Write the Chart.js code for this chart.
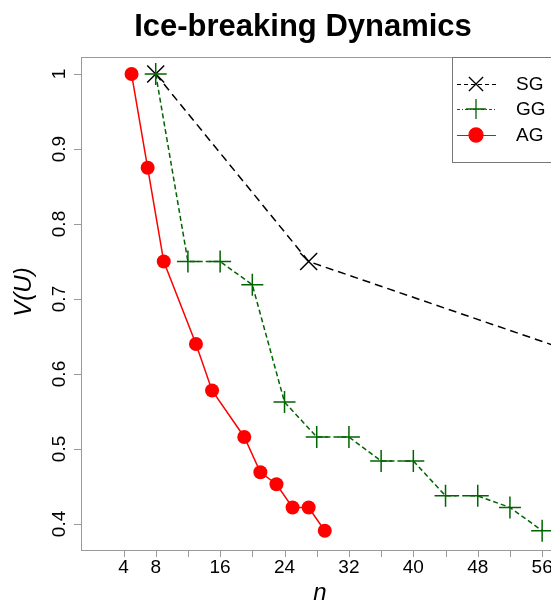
<!DOCTYPE html>
<html>
<head>
<meta charset="utf-8">
<script src="https://cdn.jsdelivr.net/npm/chart.js@4"></script>
<style>
  body { margin: 0; background: #fff; }
</style>
</head>
<body>
<canvas id="chart" width="551" height="604"></canvas>
<script>
// data
const sgN = [8, 27, 61];
const sgV = [1, 0.75, 0.625];

const ggN = [8, 12, 16, 20, 24, 28, 32, 36, 40, 44, 48, 52, 56];
const ggV = [1, 0.75, 0.75, 0.719, 0.5625, 0.516, 0.516, 0.484, 0.484, 0.4375, 0.4375, 0.422, 0.391];

const agN = [5, 7, 9, 13, 15, 19, 21, 23, 25, 27, 29];
const agV = [1, 0.875, 0.75, 0.64, 0.578, 0.516, 0.469, 0.453, 0.422, 0.422, 0.391];

const xTicks = [4, 8, 12, 16, 20, 24, 28, 32, 36, 40, 44, 48, 52, 56];
const xLabels = [4, 8, 16, 24, 32, 40, 48, 56];
const yTicks = [0.4, 0.5, 0.6, 0.7, 0.8, 0.9, 1];

const toXY = (xs, ys) => xs.map((x, i) => ({ x: x, y: ys[i] }));

const FONT = "'Liberation Sans', Arial, sans-serif";
const FRAME = "#9a9a9a";

// axes, labels, title and legend drawn by hand (R style)
const rDecor = {
  id: "rDecor",
  beforeDatasetsDraw(chart) {
    const { ctx, chartArea: a, scales } = chart;
    ctx.save();
    ctx.strokeStyle = FRAME;
    ctx.lineWidth = 1;
    ctx.strokeRect(a.left + 0.5, a.top + 0.5, 700, a.bottom - a.top);

    // x ticks
    ctx.beginPath();
    xTicks.forEach((t) => {
      const px = Math.round(scales.x.getPixelForValue(t)) + 0.5;
      ctx.moveTo(px, a.bottom);
      ctx.lineTo(px, a.bottom + 7);
    });
    // y ticks
    yTicks.forEach((t) => {
      const py = Math.round(scales.y.getPixelForValue(t)) + 0.5;
      ctx.moveTo(a.left, py);
      ctx.lineTo(a.left - 7, py);
    });
    ctx.stroke();

    ctx.fillStyle = "#000";
    ctx.font = "19px " + FONT;
    ctx.textAlign = "center";
    ctx.textBaseline = "alphabetic";
    xLabels.forEach((t) => {
      ctx.fillText(String(t), scales.x.getPixelForValue(t), 573);
    });
    yTicks.forEach((t) => {
      ctx.save();
      ctx.translate(65, scales.y.getPixelForValue(t));
      ctx.rotate(-Math.PI / 2);
      ctx.fillText(String(t), 0, 0);
      ctx.restore();
    });

    // axis titles
    ctx.font = "italic 24px " + FONT;
    ctx.fillText("n", 320, 600);
    ctx.save();
    ctx.translate(31, 292);
    ctx.rotate(-Math.PI / 2);
    ctx.fillText("V(U)", 0, 0);
    ctx.restore();

    // title
    ctx.font = "bold 31px " + FONT;
    ctx.fillText("Ice-breaking Dynamics", 303, 36);
    ctx.restore();
  },
  afterDraw(chart) {
    const { ctx } = chart;
    ctx.save();
    ctx.fillStyle = "#fff";
    ctx.fillRect(452, 57, 120, 105);
    ctx.strokeStyle = "#777";
    ctx.lineWidth = 1;
    ctx.strokeRect(452.5, 57.5, 120, 105);

    const rows = [
      { label: "SG", color: "#000", dash: [4, 3], y: 84, style: "crossRot", r: 10 },
      { label: "GG", color: "#006400", dash: [3, 2, 1, 2], y: 109, style: "cross", r: 10 },
      { label: "AG", color: "#ff0000", dash: [], y: 135, style: "circle", r: 7 }
    ];
    rows.forEach((row) => {
      ctx.strokeStyle = row.color;
      ctx.lineWidth = 1;
      ctx.setLineDash(row.dash);
      ctx.beginPath();
      ctx.moveTo(457, row.y + 0.5);
      ctx.lineTo(496, row.y + 0.5);
      ctx.stroke();
      ctx.setLineDash([]);
      ctx.fillStyle = row.color;
      ctx.lineWidth = 1.3;
      Chart.helpers.drawPoint(ctx, { pointStyle: row.style, radius: row.r, borderWidth: 1.3 }, 476, row.y);
      ctx.fillStyle = "#000";
      ctx.font = "19px " + FONT;
      ctx.textAlign = "left";
      ctx.textBaseline = "middle";
      ctx.fillText(row.label, 516, row.y + 1);
    });
    ctx.restore();
  }
};

const ctx = document.getElementById("chart").getContext("2d");
const chart = new Chart(ctx, {
  type: "line",
  data: {
    datasets: [
      {
        label: "SG",
        data: toXY(sgN, sgV),
        borderColor: "#000",
        backgroundColor: "#000",
        borderWidth: 1.5,
        borderDash: [8, 5],
        pointStyle: "crossRot",
        pointRadius: 12,
        pointBorderWidth: 1.5,
        tension: 0,
        order: 3
      },
      {
        label: "GG",
        data: toXY(ggN, ggV),
        borderColor: "#006400",
        backgroundColor: "#006400",
        borderWidth: 1.5,
        borderDash: [5, 3],
        pointStyle: "cross",
        pointRadius: 11,
        pointBorderWidth: 1.5,
        tension: 0,
        order: 2
      },
      {
        label: "AG",
        data: toXY(agN, agV),
        borderColor: "#ff0000",
        backgroundColor: "#ff0000",
        borderWidth: 1.5,
        pointStyle: "circle",
        pointRadius: 7,
        pointBorderWidth: 0,
        tension: 0,
        order: 1
      }
    ]
  },
  options: {
    responsive: false,
    animation: false,
    layout: { autoPadding: false, padding: { left: 81, top: 57, right: 0, bottom: 54 } },
    plugins: {
      legend: { display: false },
      title: { display: false },
      tooltip: { enabled: false }
    },
    scales: {
      x: { type: "linear", min: -1.28, max: 57.1, display: false },
      y: { type: "linear", min: 0.3653, max: 1.0227, display: false }
    }
  },
  plugins: [rDecor]
});
</script>
</body>
</html>
